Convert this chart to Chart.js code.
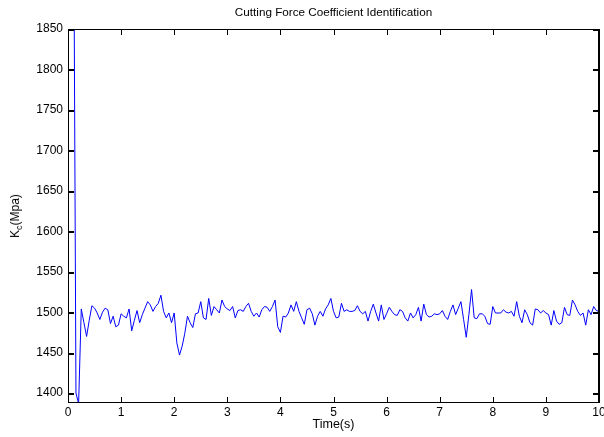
<!DOCTYPE html>
<html>
<head>
<meta charset="utf-8">
<title>Cutting Force Coefficient Identification</title>
<script src="https://cdn.jsdelivr.net/npm/chart.js@4.4.1/dist/chart.umd.min.js"></script>
<style>
  html, body { margin: 0; padding: 0; background: #fff; }
  #wrap { position: relative; width: 604px; height: 437px; }
  #ylab {
    position: absolute; left: 15px; top: 216px;
    transform: translate(-50%, -50%) rotate(-90deg);
    font-family: "Liberation Sans", Arial, sans-serif; font-size: 12px; color: #000;
    white-space: nowrap;
  }
  #ylab sub { font-size: 9px; vertical-align: -3px; line-height: 0; }
</style>
</head>
<body>
<div id="wrap">
  <canvas id="chart"></canvas>
  <div id="ylab">K<sub>c</sub>(Mpa)</div>
</div>
<script>
/* identified Kc, one sample every 0.05 s from t = 0 to 10 s */
var dt = 0.05;
var kc = [
  3000, 2500, 2100, 1400, 1387, 1504, 1487, 1470, 1490, 1508, 1505, 1499, 1491, 1500, 1505, 1503, 1486, 1495, 1482, 1484,
  1498, 1495, 1493, 1504, 1477, 1490, 1502, 1487, 1497, 1505, 1513, 1509, 1501, 1507, 1511, 1521, 1501, 1493, 1499, 1487,
  1499, 1462, 1447, 1458, 1474, 1495, 1487, 1481, 1498, 1499, 1513, 1493, 1491, 1517, 1496, 1507, 1503, 1499, 1515, 1507,
  1504, 1502, 1507, 1493, 1502, 1503, 1501, 1507, 1511, 1501, 1495, 1499, 1494, 1503, 1507, 1506, 1501, 1507, 1515, 1482,
  1475, 1495, 1494, 1499, 1509, 1501, 1513, 1501, 1493, 1485, 1503, 1505, 1498, 1484, 1495, 1501, 1495, 1504, 1509, 1517,
  1501, 1493, 1494, 1511, 1501, 1503, 1501, 1501, 1502, 1508, 1501, 1498, 1501, 1489, 1501, 1510, 1499, 1489, 1509, 1491,
  1498, 1506, 1501, 1497, 1496, 1503, 1501, 1493, 1489, 1499, 1493, 1497, 1506, 1489, 1510, 1497, 1494, 1495, 1498, 1497,
  1498, 1502, 1495, 1491, 1501, 1509, 1497, 1505, 1513, 1491, 1469, 1497, 1528, 1493, 1492, 1498, 1498, 1495, 1486, 1485,
  1507, 1499, 1499, 1499, 1503, 1500, 1499, 1501, 1495, 1513, 1495, 1487, 1503, 1497, 1487, 1484, 1504, 1503, 1499, 1502,
  1499, 1497, 1484, 1502, 1489, 1485, 1487, 1506, 1497, 1496, 1515, 1509, 1501, 1496, 1499, 1484, 1503, 1497, 1507, 1502,
  1501
];
var xTicks = [0, 1, 2, 3, 4, 5, 6, 7, 8, 9, 10];
var yTicks = [1400, 1450, 1500, 1550, 1600, 1650, 1700, 1750, 1800, 1850];
var xMin = 0, xMax = 10;
var yMin = 1389, yMax = 1850;

var FONT = '"Liberation Sans", Arial, sans-serif';

function setTicks(list) {
  return function(s) { s.ticks = list.map(function(v) { return { value: v }; }); };
}

// top/right edges and inward tick marks, drawn after everything else
var frameTicks = {
  id: 'frameTicks',
  afterDraw: function(chart) {
    var ctx = chart.ctx, a = chart.chartArea;
    var sx = chart.scales.x, sy = chart.scales.y;
    var L = 5;
    var l = Math.round(a.left), t = Math.round(a.top);
    var r = Math.round(a.right), b = Math.round(a.bottom);
    ctx.save();
    ctx.globalAlpha = 1;
    ctx.globalCompositeOperation = 'source-over';
    ctx.fillStyle = 'rgb(0,0,0)';
    ctx.fillRect(l, t, r - l + 1, 1);
    ctx.fillRect(r - 1, t, 2, b - t + 1);
    xTicks.forEach(function(v) {
      var px = Math.round(sx.getPixelForValue(v));
      ctx.fillRect(px, b - L, 1, L);
      ctx.fillRect(px, t + 1, 1, L);
    });
    yTicks.forEach(function(v) {
      var py = Math.round(sy.getPixelForValue(v));
      ctx.fillRect(l + 1, py, L, 2);
      ctx.fillRect(r - L - 1, py, L, 2);
    });
    ctx.restore();
  }
};

new Chart(document.getElementById('chart'), {
  type: 'line',
  data: {
    datasets: [{
      label: 'Kc',
      data: kc.map(function(v, i) { return { x: +(i * dt).toFixed(2), y: v }; }),
      borderColor: '#0000ff',
      borderWidth: 1,
      pointRadius: 0,
      fill: false,
      tension: 0
    }]
  },
  options: {
    responsive: true,
    maintainAspectRatio: false,
    animation: false,
    layout: { padding: { left: 0, right: 5, top: 0, bottom: 0 } },
    plugins: {
      legend: { display: false },
      tooltip: { enabled: false },
      title: {
        display: true,
        text: 'Cutting Force Coefficient Identification',
        fullSize: false,
        color: '#000',
        font: { family: FONT, size: 11.7, weight: 'normal', lineHeight: 1.2 },
        padding: { top: 6, bottom: 8.96 }
      }
    },
    scales: {
      x: {
        type: 'linear',
        min: xMin, max: xMax,
        afterBuildTicks: setTicks(xTicks),
        afterFit: function(s) { s.height = 35; s.paddingLeft = 0; s.paddingRight = 0; },
        grid: { display: true, drawOnChartArea: false, drawTicks: false, color: '#000' },
        border: { display: true, color: '#000' },
        ticks: { color: '#000', padding: 3, maxRotation: 0, font: { family: FONT, size: 12 },
                 callback: function(v) { return String(v); } },
        title: {
          display: true, text: 'Time(s)', color: '#000',
          font: { family: FONT, size: 12.5 }, padding: { top: 0, bottom: 5 }
        }
      },
      y: {
        type: 'linear',
        min: yMin, max: yMax,
        afterBuildTicks: setTicks(yTicks),
        afterFit: function(s) { s.width = 68; s.paddingTop = 0; s.paddingBottom = 0; },
        grid: { display: true, drawOnChartArea: false, drawTicks: false, color: '#000' },
        border: { display: true, color: '#000' },
        ticks: { color: '#000', padding: 5, font: { family: FONT, size: 12 },
                 callback: function(v) { return String(v); } }
      }
    }
  },
  plugins: [frameTicks]
});
</script>
</body>
</html>
